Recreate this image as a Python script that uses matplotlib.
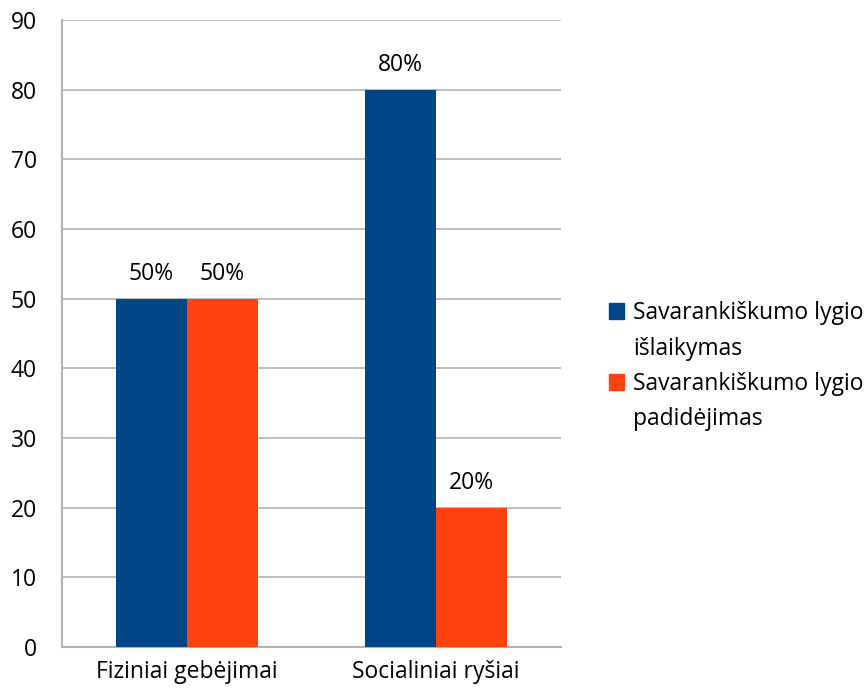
import matplotlib
matplotlib.use("Agg")
import matplotlib.pyplot as plt
from matplotlib.patches import Patch
import numpy as np

plt.rcParams["font.family"] = ["Open Sans", "DejaVu Sans"]

categorijos = ["Fiziniai gebėjimai", "Socialiniai ryšiai"]
serijos = [("Savarankiškumo lygio", "išlaikymas"), ("Savarankiškumo lygio", "padidėjimas")]
islaikymas = [50, 80]
padidejimas = [50, 20]
y_ticks = list(range(0, 91, 10))

MELYNA = "#004586"
ORANZ = "#ff420e"
FS = 16.5

fig = plt.figure(figsize=(8.67, 6.95), dpi=100)
ax = fig.add_axes([0.0715, 0.069, 0.575, 0.902])

x = np.arange(len(categorijos))
w = 0.285
b1 = ax.bar(x - w / 2, islaikymas, w, color=MELYNA, zorder=3)
b2 = ax.bar(x + w / 2, padidejimas, w, color=ORANZ, zorder=3)
for bars, vals in ((b1, islaikymas), (b2, padidejimas)):
    for r, v in zip(bars, vals):
        ax.text(r.get_x() + r.get_width() / 2, v + 1.9, f"{v}%",
                ha="center", va="bottom", fontsize=FS)

ax.set_xlim(-0.5, 1.5)
ax.set_ylim(0, 90)
ax.set_yticks(y_ticks)
ax.set_xticks(x)
ax.set_xticklabels(categorijos)
ax.tick_params(axis="both", length=0, labelsize=FS)
ax.tick_params(axis="y", pad=18)
ax.tick_params(axis="x", pad=9)
ax.grid(axis="y", color="#b3b3b3", lw=1.2, zorder=0)
for s in ax.spines.values():
    s.set_color("#b3b3b3")
    s.set_linewidth(1.5)
ax.spines["top"].set_visible(False)
ax.spines["right"].set_visible(False)

# legenda: antra eilute be zymeklio, kad kvadratas butu prie pirmos eilutes
handles, labels = [], []
for spalva, (l1, l2) in zip((MELYNA, ORANZ), serijos):
    handles += [Patch(color=spalva), Patch(color="none")]
    labels += [l1, l2]
fig.legend(handles, labels, loc="center left", bbox_to_anchor=(0.692, 0.473),
           frameon=False, fontsize=FS, handlelength=0.65, handleheight=0.65,
           handletextpad=0.4, labelspacing=0.5, borderaxespad=0)

fig.savefig("out.png", dpi=100)
